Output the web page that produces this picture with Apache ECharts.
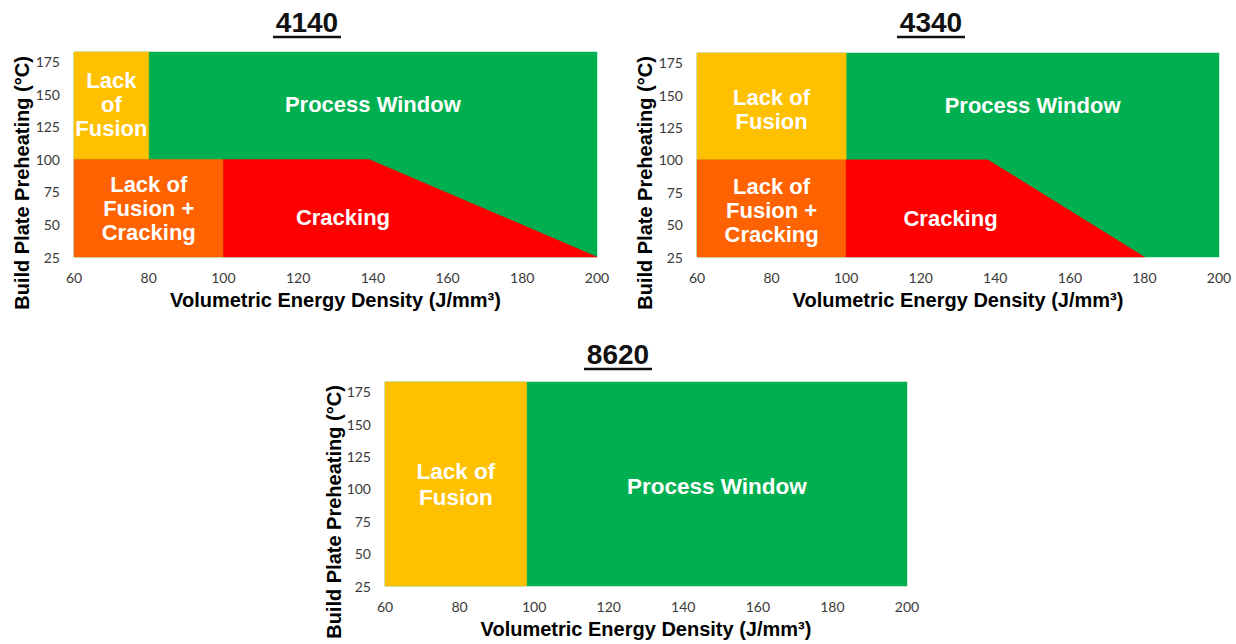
<!DOCTYPE html>
<html>
<head>
<meta charset="utf-8">
<script src="https://cdn.jsdelivr.net/npm/echarts@6/dist/echarts.min.js"></script>
<style>html,body{margin:0;padding:0;background:#fff}#c{width:1236px;height:644px}</style>
</head>
<body>
<div id="c"></div>
<script>
// ---- data ----
const alloys = ['4140', '4340', '8620'];
const xTicks = [60, 80, 100, 120, 140, 160, 180, 200];
const yTicks = [25, 50, 75, 100, 125, 150, 175];
const yTop = 182.5;                          // top of drawn region (°C)
const lofLimit = [80, 100, 98];              // VED below which lack of fusion occurs
const crackLofLimit = [100, 100, null];      // VED below which LoF + cracking occurs
const crackTemp = [100, 100, null];          // preheat below which cracking occurs
const crackKnee = [139, 138, null];          // VED where cracking boundary starts to slope
const crackEnd = [200, 180, null];           // VED where cracking boundary reaches 25 °C
const regionNames = ['Process Window', 'Lack of Fusion', 'Lack of Fusion + Cracking', 'Cracking'];

// ---- styling / layout ----
const colors = {'Process Window': '#00B050', 'Lack of Fusion': '#FFC000',
  'Lack of Fusion + Cracking': '#FF6200', 'Cracking': '#FF0000'};
const grids = [
  {left: 74, top: 52, width: 523, height: 205},
  {left: 697, top: 53, width: 522, height: 204},
  {left: 385, top: 382, width: 522, height: 204}
];
const titlePos = [[307, 22], [931, 22], [618, 354]];
const yNamePos = [[22, 183], [645, 183], [334, 512]];
// label anchors in data units and text lines
const labelDefs = [
  [
    {t: 'Lack\nof\nFusion', x: 70, y: 142},
    {t: 'Process Window', x: 140, y: 142},
    {t: 'Lack of\nFusion +\nCracking', x: 80, y: 62},
    {t: 'Cracking', x: 132, y: 55}
  ],
  [
    {t: 'Lack of\nFusion', x: 80, y: 139},
    {t: 'Process Window', x: 150, y: 142},
    {t: 'Lack of\nFusion +\nCracking', x: 80, y: 61},
    {t: 'Cracking', x: 128, y: 55}
  ],
  [
    {t: 'Lack of\nFusion', x: 79, y: 103},
    {t: 'Process Window', x: 149, y: 102}
  ]
];
const labelFont = [
  {family: '"Liberation Sans", Arial, sans-serif', size: 22, lh: 24},
  {family: '"Liberation Sans", Arial, sans-serif', size: 22, lh: 24},
  {family: '"Liberation Sans", Arial, sans-serif', size: 22.5, lh: 26}
];

const xMin = xTicks[0], xMax = xTicks[xTicks.length - 1];
const yMin = yTicks[0];

function polygonsFor(i) {
  const list = [];
  list.push({name: regionNames[0], pts: [[xMin, yMin], [xMax, yMin], [xMax, yTop], [xMin, yTop]]});
  if (crackTemp[i] != null) {
    const ct = crackTemp[i];
    list.push({name: regionNames[1], pts: [[xMin, ct], [lofLimit[i], ct], [lofLimit[i], yTop], [xMin, yTop]]});
    list.push({name: regionNames[2], pts: [[xMin, yMin], [crackLofLimit[i], yMin], [crackLofLimit[i], ct], [xMin, ct]]});
    list.push({name: regionNames[3], pts: [[crackLofLimit[i], yMin], [crackEnd[i], yMin], [crackKnee[i], ct], [crackLofLimit[i], ct]]});
  } else {
    list.push({name: regionNames[1], pts: [[xMin, yMin], [lofLimit[i], yMin], [lofLimit[i], yTop], [xMin, yTop]]});
  }
  return list;
}

const option = {
  animation: false,
  backgroundColor: '#fff',
  grid: grids.map(g => Object.assign({containLabel: false}, g)),
  xAxis: alloys.map((a, i) => ({
    type: 'value', gridIndex: i, min: xMin, max: xMax, interval: 20,
    axisLine: {show: false}, axisTick: {show: false}, splitLine: {show: false},
    axisLabel: {margin: 13, fontSize: 14, color: '#3a3a3a', fontFamily: 'Lato, sans-serif'},
    name: 'Volumetric Energy Density (J/mm³)', nameLocation: 'middle', nameGap: 33,
    nameTextStyle: {fontSize: 20, fontWeight: 'bold', color: '#000', fontFamily: '"Liberation Sans", Arial, sans-serif'}
  })),
  yAxis: alloys.map((a, i) => ({
    type: 'value', gridIndex: i, min: yMin, max: yTop, interval: 25,
    axisLine: {show: false}, axisTick: {show: false}, splitLine: {show: false},
    axisLabel: {margin: 14, fontSize: 14, color: '#3a3a3a', fontFamily: 'Lato, sans-serif', showMaxLabel: false}
  })),
  series: [],
  graphic: []
};

alloys.forEach((a, i) => {
  const polys = polygonsFor(i);
  option.series.push({
    type: 'custom', xAxisIndex: i, yAxisIndex: i, silent: true,
    data: polys.map((p, k) => [k]),
    renderItem: function (params, api) {
      const p = polys[params.dataIndex];
      return {
        type: 'polygon',
        shape: {points: p.pts.map(v => api.coord(v))},
        style: {fill: colors[p.name], stroke: colors[p.name], lineWidth: 0.5}
      };
    }
  });
  const labs = labelDefs[i];
  const f = labelFont[i];
  option.series.push({
    type: 'custom', xAxisIndex: i, yAxisIndex: i, silent: true, z: 5,
    data: labs.map(l => [l.x, l.y]),
    renderItem: function (params, api) {
      const c = api.coord([api.value(0), api.value(1)]);
      return {
        type: 'text', x: c[0], y: c[1],
        style: {text: labs[params.dataIndex].t, fill: '#fff', font: 'bold ' + f.size + 'px ' + f.family,
          align: 'center', verticalAlign: 'middle', lineHeight: f.lh}
      };
    }
  });
  // title with underline
  option.graphic.push({
    type: 'text', x: titlePos[i][0], y: titlePos[i][1],
    style: {text: a, fill: '#111', font: 'bold 28px "Liberation Sans", Arial, sans-serif', align: 'center', verticalAlign: 'middle'}
  });
  option.graphic.push({
    type: 'line', shape: {x1: titlePos[i][0] - 34, y1: titlePos[i][1] + 15, x2: titlePos[i][0] + 34, y2: titlePos[i][1] + 15},
    style: {stroke: '#111', lineWidth: 2.5}
  });
  option.graphic.push({
    type: 'text', x: yNamePos[i][0], y: yNamePos[i][1], rotation: Math.PI / 2,
    style: {text: 'Build Plate Preheating (°C)', fill: '#000', font: 'bold 20px "Liberation Sans", Arial, sans-serif', align: 'center', verticalAlign: 'middle'}
  });
});

const chart = echarts.init(document.getElementById('c'), null, {renderer: 'svg'});
chart.setOption(option);
</script>
</body>
</html>
